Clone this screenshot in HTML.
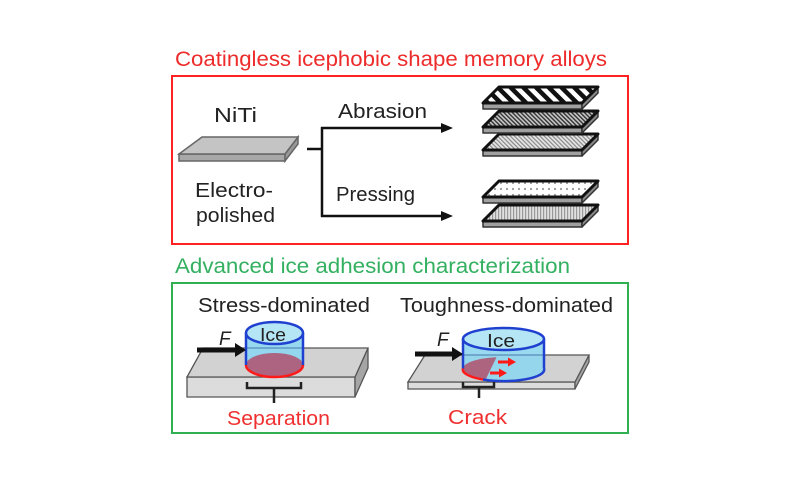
<!DOCTYPE html>
<html><head><meta charset="utf-8"><style>
html,body{margin:0;padding:0;background:#fff;}
svg{display:block;}
text{font-family:"Liberation Sans",Arial,sans-serif;}
</style></head><body>
<svg width="800" height="500" viewBox="0 0 800 500" xmlns="http://www.w3.org/2000/svg">
<defs>
  <pattern id="p1" width="9" height="9" patternUnits="userSpaceOnUse" patternTransform="rotate(-45)">
    <rect width="9" height="9" fill="#fff"/><rect width="4.5" height="9" fill="#111"/>
  </pattern>
  <pattern id="p2" width="3" height="3" patternUnits="userSpaceOnUse" patternTransform="rotate(-45)">
    <rect width="3" height="3" fill="#c8c8c8"/><rect width="1.4" height="3" fill="#333"/>
  </pattern>
  <pattern id="p3" width="3" height="3" patternUnits="userSpaceOnUse" patternTransform="rotate(-45)">
    <rect width="3" height="3" fill="#e6e6e6"/><rect width="1.2" height="3" fill="#888"/>
  </pattern>
  <pattern id="p4" width="6" height="6" patternUnits="userSpaceOnUse">
    <rect width="6" height="6" fill="#fff"/><circle cx="3" cy="3" r="1.1" fill="#999"/>
  </pattern>
  <pattern id="p5" width="3" height="3" patternUnits="userSpaceOnUse">
    <rect width="3" height="3" fill="#e0e0e0"/><rect width="1.2" height="3" fill="#999"/>
  </pattern>
  <clipPath id="cb2"><ellipse cx="503.5" cy="368.5" rx="40.5" ry="11.5"/></clipPath>
</defs>

<!-- Top section -->
<text x="175" y="66" font-size="21" fill="#ee2b2b" textLength="432" lengthAdjust="spacingAndGlyphs">Coatingless icephobic shape memory alloys</text>
<rect x="172" y="76" width="456" height="168" fill="none" stroke="#f22" stroke-width="2"/>

<text x="214" y="122" font-size="20" fill="#222" textLength="43" lengthAdjust="spacingAndGlyphs">NiTi</text>
<text x="195" y="197" font-size="20" fill="#222" textLength="78" lengthAdjust="spacingAndGlyphs">Electro-</text>
<text x="196" y="222" font-size="20" fill="#222" textLength="79" lengthAdjust="spacingAndGlyphs">polished</text>
<text x="338" y="118" font-size="20" fill="#222" textLength="89" lengthAdjust="spacingAndGlyphs">Abrasion</text>
<text x="336" y="201" font-size="20" fill="#222" textLength="79" lengthAdjust="spacingAndGlyphs">Pressing</text>

<!-- NiTi plate -->
<polygon points="179,154 285,154 285,161 179,161" fill="#a8a8a8" stroke="#666" stroke-width="1.5"/>
<polygon points="285,154 298,137 298,144 285,161" fill="#999" stroke="#666" stroke-width="1.5"/>
<polygon points="202,137 298,137 285,154 179,154" fill="#c4c4c4" stroke="#666" stroke-width="1.5"/>

<!-- connectors -->
<g stroke="#111" stroke-width="2.5" fill="none">
  <line x1="307" y1="149" x2="322" y2="149"/>
  <line x1="322" y1="127" x2="322" y2="217"/>
  <line x1="321" y1="128" x2="443" y2="128"/>
  <line x1="321" y1="216" x2="443" y2="216"/>
</g>
<polygon points="441,123 453,128 441,133" fill="#111"/>
<polygon points="441,211 453,216 441,221" fill="#111"/>

<!-- stacked plates -->
<g stroke-linejoin="round">
  <polygon points="483,150 582,150 582,156 483,156" fill="#a0a0a0" stroke="#333" stroke-width="1.5"/>
  <polygon points="582,150 598,134 598,140 582,156" fill="#888" stroke="#333" stroke-width="1.5"/>
  <polygon points="499,134 598,134 582,150 483,150" fill="url(#p3)" stroke="#111" stroke-width="3"/>
  <polygon points="483,127 582,127 582,133 483,133" fill="#a0a0a0" stroke="#333" stroke-width="1.5"/>
  <polygon points="582,127 598,111 598,117 582,133" fill="#888" stroke="#333" stroke-width="1.5"/>
  <polygon points="499,111 598,111 582,127 483,127" fill="url(#p2)" stroke="#111" stroke-width="3"/>
  <polygon points="483,103 582,103 582,109 483,109" fill="#a0a0a0" stroke="#333" stroke-width="1.5"/>
  <polygon points="582,103 598,87 598,93 582,109" fill="#888" stroke="#333" stroke-width="1.5"/>
  <polygon points="499,87 598,87 582,103 483,103" fill="url(#p1)" stroke="#111" stroke-width="3"/>
  <polygon points="483,221 582,221 582,227 483,227" fill="#a0a0a0" stroke="#333" stroke-width="1.5"/>
  <polygon points="582,221 598,205 598,211 582,227" fill="#888" stroke="#333" stroke-width="1.5"/>
  <polygon points="499,205 598,205 582,221 483,221" fill="url(#p5)" stroke="#111" stroke-width="3"/>
  <polygon points="483,197 582,197 582,203 483,203" fill="#a0a0a0" stroke="#333" stroke-width="1.5"/>
  <polygon points="582,197 598,181 598,187 582,203" fill="#888" stroke="#333" stroke-width="1.5"/>
  <polygon points="499,181 598,181 582,197 483,197" fill="url(#p4)" stroke="#111" stroke-width="3"/>
</g>

<!-- Bottom section -->
<text x="175" y="273" font-size="21" fill="#33b060" textLength="395" lengthAdjust="spacingAndGlyphs">Advanced ice adhesion characterization</text>
<rect x="172" y="283" width="456" height="150" fill="none" stroke="#30b050" stroke-width="2"/>

<text x="198" y="312" font-size="20" fill="#222" textLength="172" lengthAdjust="spacingAndGlyphs">Stress-dominated</text>
<text x="400" y="312" font-size="20" fill="#222" textLength="213" lengthAdjust="spacingAndGlyphs">Toughness-dominated</text>

<!-- slab 1 -->
<polygon points="187,377 355,377 355,397 187,397" fill="#dcdcdc" stroke="#555" stroke-width="1.3"/>
<polygon points="355,377 368,348 368,368 355,397" fill="#a5a5a5" stroke="#555" stroke-width="1.3"/>
<polygon points="203,348 368,348 355,377 187,377" fill="#d2d2d2" stroke="#555" stroke-width="1.3"/>

<!-- cylinder 1 -->
<path d="M246,333 L246,365 A28.5,12 0 0 0 303,365 L303,333 Z" fill="#8fd6ee" opacity="0.95"/>
<ellipse cx="274.5" cy="365" rx="28.5" ry="12" fill="#b0506c" opacity="0.85"/>
<line x1="246" y1="348" x2="303" y2="348" stroke="#4a7ab0" stroke-width="1"/>
<ellipse cx="274.5" cy="333" rx="28.5" ry="11" fill="#b4e6f6" stroke="#2040d0" stroke-width="2.5"/>
<line x1="246" y1="333" x2="246" y2="365" stroke="#2040d0" stroke-width="2.5"/>
<line x1="303" y1="333" x2="303" y2="365" stroke="#2040d0" stroke-width="2.5"/>
<path d="M246,365 A28.5,12 0 0 0 303,365" fill="none" stroke="#ff1a1a" stroke-width="2.5"/>
<text x="260" y="341" font-size="18" fill="#222" textLength="26" lengthAdjust="spacingAndGlyphs">Ice</text>

<!-- force arrow 1 -->
<line x1="197" y1="350" x2="238" y2="350" stroke="#111" stroke-width="5"/>
<polygon points="235,343 246,350 235,357" fill="#111"/>
<text x="219" y="345" font-size="19" font-style="italic" fill="#222">F</text>

<!-- bracket 1 -->
<path d="M247,382 L247,388 L301,388 L301,382 M274,388 L274,403" fill="none" stroke="#222" stroke-width="2.5"/>
<text x="227" y="425" font-size="20" fill="#f03030" textLength="103" lengthAdjust="spacingAndGlyphs">Separation</text>

<!-- slab 2 -->
<polygon points="408,382 575,382 575,389 408,389" fill="#dcdcdc" stroke="#555" stroke-width="1.3"/>
<polygon points="575,382 589,355 589,362 575,389" fill="#a5a5a5" stroke="#555" stroke-width="1.3"/>
<polygon points="425,355 589,355 575,382 408,382" fill="#d2d2d2" stroke="#555" stroke-width="1.3"/>

<!-- cylinder 2 -->
<path d="M463,339 L463,368.5 A40.5,11.5 0 0 0 544,368.5 L544,339 Z" fill="#8fd6ee" opacity="0.9"/>
<g clip-path="url(#cb2)">
  <polygon points="455,350 500,350 483,385 455,385" fill="#b0506c" opacity="0.85"/>
</g>
<line x1="463" y1="355" x2="544" y2="355" stroke="#4a7ab0" stroke-width="1"/>
<ellipse cx="503.5" cy="339" rx="40.5" ry="11" fill="#b4e6f6" stroke="#2040d0" stroke-width="2.5"/>
<line x1="463" y1="339" x2="463" y2="368.5" stroke="#2040d0" stroke-width="2.5"/>
<line x1="544" y1="339" x2="544" y2="368.5" stroke="#2040d0" stroke-width="2.5"/>
<path d="M483,379.5 A40.5,11.5 0 0 0 544,368.5" fill="none" stroke="#2040d0" stroke-width="2.5"/>
<path d="M463,368.5 A40.5,11.5 0 0 0 483,379.5" fill="none" stroke="#ff1a1a" stroke-width="2.5"/>
<text x="487" y="347" font-size="18" fill="#222" textLength="28" lengthAdjust="spacingAndGlyphs">Ice</text>
<line x1="498" y1="362" x2="510" y2="362" stroke="#ff1a1a" stroke-width="3"/>
<polygon points="508,357.5 516,362 508,366.5" fill="#ff1a1a"/>
<line x1="490" y1="373" x2="501" y2="373" stroke="#ff1a1a" stroke-width="3"/>
<polygon points="499,368.5 507,373 499,377.5" fill="#ff1a1a"/>

<!-- force arrow 2 -->
<line x1="415" y1="354" x2="455" y2="354" stroke="#111" stroke-width="5"/>
<polygon points="452,347 463,354 452,361" fill="#111"/>
<text x="437" y="346" font-size="19" font-style="italic" fill="#222">F</text>

<!-- bracket 2 -->
<path d="M463,382 L463,387 L494,387 L494,382 M479,387 L479,398" fill="none" stroke="#222" stroke-width="2.5"/>
<text x="448" y="424" font-size="20" fill="#f03030" textLength="59" lengthAdjust="spacingAndGlyphs">Crack</text>
</svg>
</body></html>
